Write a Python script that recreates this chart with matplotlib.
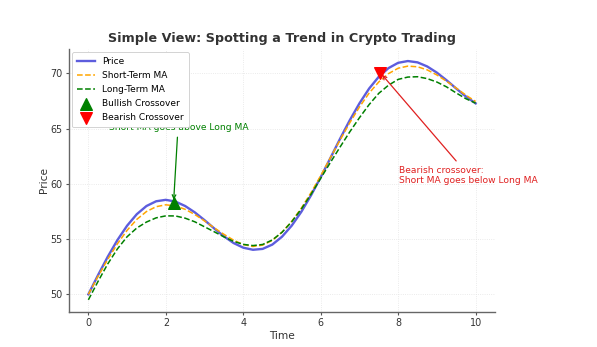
import matplotlib
matplotlib.use("Agg")
import matplotlib.pyplot as plt

# ---- data ----
time = [0.0, 0.25, 0.5, 0.75, 1.0, 1.25, 1.5, 1.75, 2.0, 2.25, 2.5, 2.75, 3.0, 3.25,
        3.5, 3.75, 4.0, 4.25, 4.5, 4.75, 5.0, 5.25, 5.5, 5.75, 6.0, 6.25, 6.5, 6.75,
        7.0, 7.25, 7.5, 7.75, 8.0, 8.25, 8.5, 8.75, 9.0, 9.25, 9.5, 9.75, 10.0]
price = [50.00, 51.74, 53.40, 54.91, 56.21, 57.25, 57.99, 58.42, 58.55, 58.39, 57.99,
         57.41, 56.71, 55.96, 55.25, 54.64, 54.22, 54.03, 54.11, 54.50, 55.21, 56.21,
         57.47, 58.96, 60.60, 62.33, 64.08, 65.75, 67.28, 68.62, 69.69, 70.47, 70.95,
         71.11, 70.99, 70.62, 70.06, 69.37, 68.62, 67.90, 67.28]
short_ma = [50.00, 51.62, 53.16, 54.57, 55.79, 56.78, 57.49, 57.93, 58.10, 58.00, 57.69,
            57.22, 56.64, 56.01, 55.43, 54.90, 54.50, 54.33, 54.45, 54.88, 55.62, 56.60,
            57.80, 59.20, 60.74, 62.35, 63.97, 65.52, 66.95, 68.21, 69.22, 69.97, 70.46,
            70.65, 70.59, 70.31, 69.85, 69.28, 68.66, 68.02, 67.45]
long_ma = [49.50, 51.17, 52.75, 54.11, 55.21, 56.00, 56.54, 56.92, 57.10, 57.09, 56.89,
           56.56, 56.11, 55.66, 55.20, 54.79, 54.52, 54.41, 54.51, 54.92, 55.61, 56.56,
           57.72, 59.06, 60.50, 61.93, 63.33, 64.70, 65.98, 67.17, 68.19, 68.92, 69.45,
           69.66, 69.69, 69.52, 69.21, 68.77, 68.22, 67.70, 67.30]
bull_x, bull_y = [2.2], [58.3]
bear_x, bear_y = [7.54], [70.05]
bull_text = "Bullish crossover:\nShort MA goes above Long MA"
bear_text = "Bearish crossover:\nShort MA goes below Long MA"
bull_text_pos = (0.52, 65.6)
bear_text_pos = (8.03, 60.75)

fig = plt.figure(figsize=(5.97, 3.47), dpi=100)
ax = fig.add_axes([0.1156, 0.1015, 0.7135, 0.757])

ax.plot(time, price, color="#4040d8", alpha=0.85, lw=1.7, label="Price")
ax.plot(time, short_ma, color="orange", ls="--", lw=1.1, label="Short-Term MA")
ax.plot(time, long_ma, color="green", ls="--", lw=1.1, label="Long-Term MA")
ax.scatter(bull_x, bull_y, marker="^", color="green", s=70, zorder=5, label="Bullish Crossover")
ax.scatter(bear_x, bear_y, marker="v", color="red", s=70, zorder=5, label="Bearish Crossover")

ax.annotate(bull_text, xy=(bull_x[0], bull_y[0]), xytext=bull_text_pos,
            ha="left", va="center", color="green", fontsize=6.55,
            arrowprops=dict(arrowstyle="->", color="green", lw=0.9))
ax.annotate(bear_text, xy=(bear_x[0], bear_y[0]), xytext=bear_text_pos,
            ha="left", va="center", color="#e02020", fontsize=6.55,
            arrowprops=dict(arrowstyle="->", color="#e02020", lw=0.9))

ax.set_xlim(-0.5, 10.5)
ax.set_title("Simple View: Spotting a Trend in Crypto Trading", fontsize=9.2,
             fontweight="bold", color="#333333", pad=5)
ax.set_xlabel("Time", fontsize=7.6, color="#333333", labelpad=2)
ax.set_ylabel("Price", fontsize=7.6, color="#333333", labelpad=1)
ax.tick_params(labelsize=6.9, colors="#555555", labelcolor="#333333", length=2.5,
               width=0.8, pad=2)
for s in ["top", "right"]:
    ax.spines[s].set_visible(False)
for s in ["left", "bottom"]:
    ax.spines[s].set_color("#666666")
    ax.spines[s].set_linewidth(1.0)
ax.grid(True, color="#e4e4e4", lw=0.6, ls=":")
ax.set_axisbelow(True)

leg = ax.legend(loc="upper left", fontsize=6.5, frameon=True, borderaxespad=0.3,
                handlelength=2.0, labelspacing=0.57, borderpad=0.55)
leg.get_frame().set_edgecolor("#cccccc")
leg.get_frame().set_linewidth(0.6)
leg.get_frame().set_alpha(1.0)
leg.set_zorder(10)

fig.savefig("out.png", dpi=100)
